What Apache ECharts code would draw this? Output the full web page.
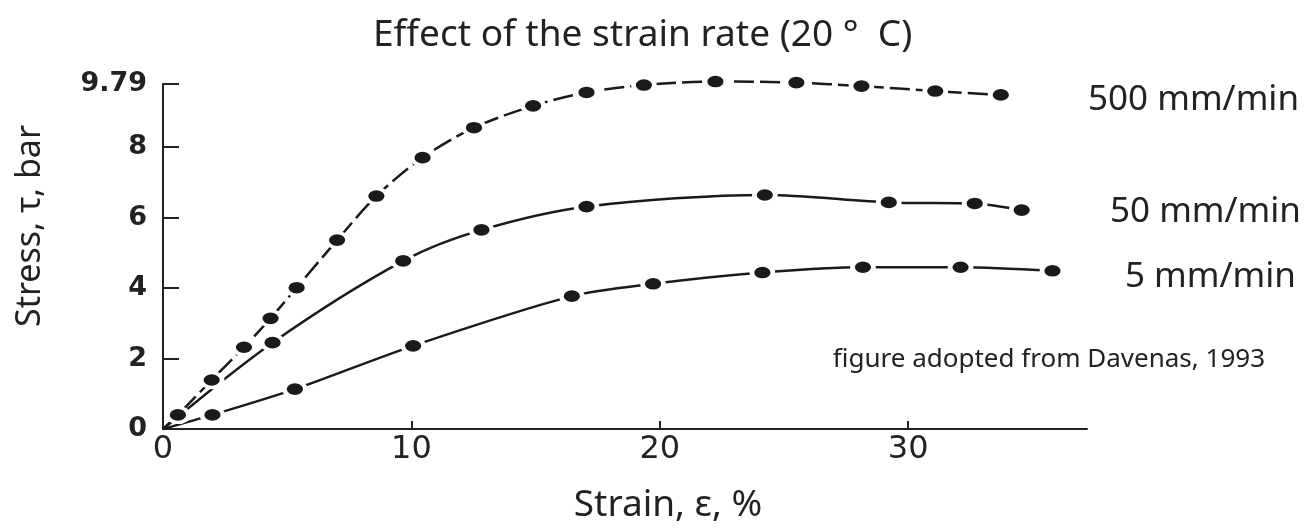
<!DOCTYPE html>
<html>
<head>
<meta charset="utf-8">
<script src="https://cdn.jsdelivr.net/npm/echarts@6/dist/echarts.min.js"></script>
<style>
html, body { margin: 0; padding: 0; background: #fff; }
#chart { width: 1306px; height: 530px; }
</style>
</head>
<body>
<div id="chart"></div>
<script>
// strain (%) / stress (bar) pairs
const rate500 = [[0, 0], [0.6, 0.4], [1.96, 1.39], [3.26, 2.32], [4.33, 3.14], [5.38, 4.01], [7.01, 5.36],
    [8.59, 6.61], [10.45, 7.7], [12.52, 8.55], [14.9, 9.17], [17.05, 9.55], [19.36, 9.76],
    [22.24, 9.86], [25.5, 9.83], [28.12, 9.73], [31.09, 9.59], [33.73, 9.48]];
const rate50 = [[0, 0], [4.41, 2.45], [9.67, 4.77], [12.82, 5.65], [17.05, 6.31], [24.23, 6.64],
    [29.22, 6.43], [32.68, 6.4], [34.57, 6.21]];
const rate5 = [[0, 0], [1.99, 0.4], [5.31, 1.13], [10.07, 2.36], [16.46, 3.77], [19.73, 4.12],
    [24.13, 4.44], [28.18, 4.59], [32.11, 4.59], [35.81, 4.49]];
const xLabels = [0, 10, 20, 30];
const xTicks = [10, 20, 30];
const yLabels = [0, 2, 4, 6, 8, 9.79];
const yTicks = [2, 4, 6, 8, 9.79];

const ink = '#1a1a1a';

function curve(name, data, dash) {
    return {
        name: name,
        type: 'line',
        data: data,
        smooth: 0.3,
        clip: false,
        symbol: 'circle',
        symbolSize: function (v, p) { return p.dataIndex === 0 ? 0 : [21, 15]; },
        itemStyle: { color: ink, borderColor: '#fff', borderWidth: 4 },
        lineStyle: { color: ink, width: 2.5, type: dash },
        z: 3
    };
}

let myChart = echarts.init(document.getElementById('chart'));
myChart.setOption({
    animation: false,
    title: {
        text: 'Effect of the strain rate (20 °  C)',
        left: 368,
        top: 12,
        textStyle: { fontFamily: 'Noto Sans', fontSize: 37, fontWeight: 'normal', color: '#222' }
    },
    grid: { left: 163, top: 84, right: 219, bottom: 101 },
    xAxis: {
        type: 'value',
        min: 0,
        max: 37.2,
        interval: 10,
        axisLine: { onZero: false, lineStyle: { color: '#222', width: 2 } },
        axisTick: { inside: true, length: 8, customValues: xTicks, lineStyle: { color: '#222', width: 2 } },
        axisLabel: {
            customValues: xLabels, margin: 5,
            fontFamily: 'DejaVu Sans', fontSize: 32, color: '#222'
        },
        splitLine: { show: false }
    },
    yAxis: {
        type: 'value',
        min: 0,
        max: 9.79,
        axisLine: { show: true, onZero: false, lineStyle: { color: '#222', width: 2 } },
        axisTick: { show: true, inside: true, length: 16, customValues: yTicks, lineStyle: { color: '#222', width: 2 } },
        axisLabel: {
            customValues: yLabels, margin: 16,
            fontFamily: 'DejaVu Sans', fontSize: 27, fontWeight: 'bold', color: '#222'
        },
        splitLine: { show: false }
    },
    graphic: [
        { type: 'text', x: 30, y: 226, rotation: Math.PI / 2,
          style: { text: 'Stress, τ, bar', align: 'center', verticalAlign: 'middle', font: '34px "Noto Sans"', fill: '#222' } },
        { type: 'text', x: 668, y: 505,
          style: { text: 'Strain, ε, %', align: 'center', verticalAlign: 'middle', font: '37px "Noto Sans"', fill: '#222' } },
        { type: 'text', x: 1088, y: 100,
          style: { text: '500 mm/min', align: 'left', verticalAlign: 'middle', font: '35px "Noto Sans"', fill: '#222' } },
        { type: 'text', x: 1110, y: 212,
          style: { text: '50 mm/min', align: 'left', verticalAlign: 'middle', font: '35px "Noto Sans"', fill: '#222' } },
        { type: 'text', x: 1125, y: 277,
          style: { text: '5 mm/min', align: 'left', verticalAlign: 'middle', font: '35px "Noto Sans"', fill: '#222' } },
        { type: 'text', x: 1265, y: 360,
          style: { text: 'figure adopted from Davenas, 1993', align: 'right', verticalAlign: 'middle', font: '26px "Noto Sans"', fill: '#222' } }
    ],
    series: [
        curve('500 mm/min', rate500, [20, 6]),
        curve('50 mm/min', rate50, 'solid'),
        curve('5 mm/min', rate5, 'solid')
    ]
});
</script>
</body>
</html>
